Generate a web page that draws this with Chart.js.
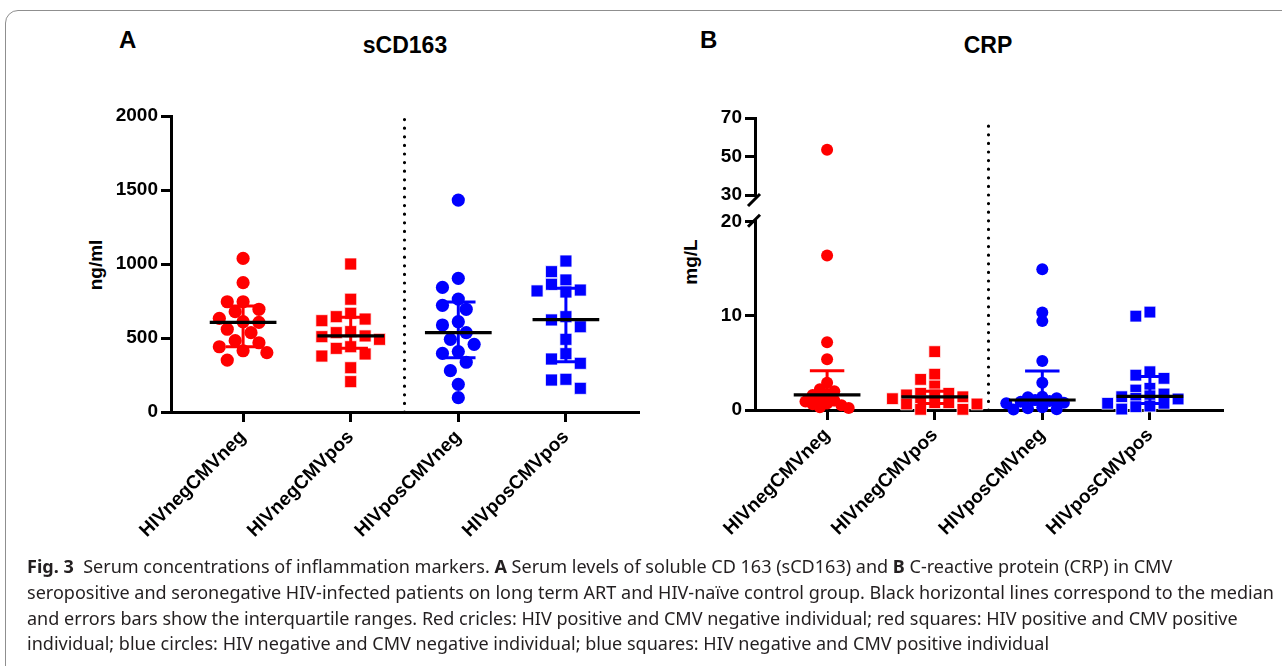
<!DOCTYPE html>
<html><head><meta charset="utf-8">
<script src="https://cdn.jsdelivr.net/npm/chart.js@4.4.1/dist/chart.umd.min.js"></script>
<style>
html,body{margin:0;padding:0;background:#fff}
body{width:1282px;height:666px;position:relative;overflow:hidden}
#frame{position:absolute;left:5px;top:10px;width:1400px;height:800px;border:1.5px solid #8f8f8f;border-radius:13px;box-sizing:border-box}
canvas{position:absolute}
.t{position:absolute;font-family:'Liberation Sans',Arial,sans-serif;font-weight:bold;color:#000;white-space:nowrap;line-height:1}
.c{transform:translateX(-50%)}
.r{transform:translate(-50%,-50%) rotate(-90deg)}
#cap{position:absolute;left:27px;top:554px;font-family:'Noto Sans',sans-serif;font-size:17px;line-height:25.8px;color:#231f20;white-space:nowrap}
#cap b{font-weight:bold}
</style></head><body>
<div id="frame"></div>
<div class="t" style="left:119px;top:28px;font-size:24px">A</div>
<div class="t c" style="left:405px;top:34px;font-size:23px">sCD163</div>
<div class="t" style="left:700px;top:28px;font-size:24px">B</div>
<div class="t c" style="left:988px;top:34px;font-size:23px">CRP</div>
<div class="t r" style="left:95px;top:265px;font-size:19px">ng/ml</div>
<div class="t r" style="left:690px;top:262px;font-size:19px">mg/L</div>
<canvas id="cA" width="660" height="560" style="left:0;top:0"></canvas>
<canvas id="cB" width="660" height="560" style="left:584px;top:0"></canvas>
<div id="cap">
<div><b>Fig. 3</b>&nbsp; Serum concentrations of inflammation markers. <b>A</b> Serum levels of soluble CD 163 (sCD163) and <b>B</b> C-reactive protein (CRP) in CMV</div>
<div id="l2">seropositive and seronegative HIV-infected patients on long term ART and HIV-naïve control group. Black horizontal lines correspond to the median</div>
<div>and errors bars show the interquartile ranges. Red cricles: HIV positive and CMV negative individual; red squares: HIV positive and CMV positive</div>
<div>individual; blue circles: HIV negative and CMV negative individual; blue squares: HIV negative and CMV positive individual</div>
</div>
<script>
// ---------------- data ----------------
const categories = ['HIVnegCMVneg', 'HIVnegCMVpos', 'HIVposCMVneg', 'HIVposCMVpos'];
const groupColors = ['#ff0000', '#ff0000', '#0000ff', '#0000ff'];
const groupShapes = ['circle', 'rect', 'circle', 'rect'];

// Panel A: sCD163 (ng/ml)
const sCD163Ticks = [0, 500, 1000, 1500, 2000];
const sCD163_HIVnegCMVneg = [1038, 874, 745, 745, 694, 678, 633, 610, 606, 559, 536, 482, 468, 441, 414, 401, 351];
const sCD163_HIVnegCMVpos = [1000, 762, 667, 644, 628, 617, 543, 536, 514, 509, 491, 441, 430, 392, 378, 299, 205];
const sCD163_HIVposCMVneg = [1432, 903, 842, 763, 721, 694, 610, 588, 536, 491, 457, 408, 396, 336, 279, 187, 97];
const sCD163_HIVposCMVpos = [1020, 948, 892, 863, 824, 818, 811, 644, 622, 576, 491, 394, 358, 329, 221, 216, 160];
const sCD163Median = [606, 514, 536, 624];
const sCD163Q1 = [441, 430, 367, 340];
const sCD163Q3 = [716, 640, 743, 836];

// Panel B: CRP (mg/L), broken axis
const crpLowerTicks = [0, 10, 20];
const crpUpperTicks = [30, 50, 70];
const crp_HIVnegCMVneg = [53.5, 16.4, 7.2, 5.4, 2.9, 2.2, 2.0, 1.7, 1.6, 1.2, 1.0, 0.9, 0.7, 0.6, 0.5, 0.3, 0.2];
const crp_HIVnegCMVpos = [6.2, 3.8, 3.25, 2.55, 1.77, 1.77, 1.6, 1.6, 1.4, 1.2, 0.88, 0.77, 0.77, 0.64, 0.64, 0.07, 0.07];
const crp_HIVposCMVneg = [14.95, 10.36, 9.44, 5.2, 2.9, 1.41, 1.35, 1.24, 1.06, 0.95, 0.88, 0.77, 0.71, 0.3, 0.18, 0.07, 0.05];
const crp_HIVposCMVpos = [10.4, 9.97, 4.06, 3.7, 3.36, 2.3, 2.12, 1.7, 1.5, 1.41, 1.24, 1.17, 0.71, 0.71, 0.42, 0.35, 0.1];
const crpMedian = [1.6, 1.4, 1.06, 1.45];
const crpQ1 = [0.55, 0.7, 0.6, 0.7];
const crpQ3 = [4.17, 2.0, 4.14, 3.55];

// ---------------- style ----------------
const FONT = {family: "'Liberation Sans', Arial, sans-serif", weight: 'bold', size: 19};
Chart.defaults.font.family = FONT.family;
Chart.defaults.font.weight = 'bold';
Chart.defaults.font.size = 19;
Chart.defaults.color = '#000';
Chart.defaults.animation = false;
const Y_AXIS_W = 71, PAD_L = 100, PAD_R = 22;
const CAP_HALF = 0.16, MED_HALF = 0.31;

function swarmOffsets(pys, d, shape, stepF, thrF) {
  const order = pys.map((p, i) => i).sort((a, b) => pys[a] - pys[b]);
  const placed = [];
  const off = new Array(pys.length).fill(0);
  const step = d * stepF, thr = d * thrF;
  for (const i of order) {
    for (let k = 0; k < 80; k++) {
      const m = Math.ceil(k / 2) * (k % 2 ? -1 : 1);
      const dx = m * step;
      const ok = placed.every(p => shape === 'circle'
        ? Math.hypot(p.x - dx, p.y - pys[i]) >= thr
        : (Math.abs(p.x - dx) >= thr || Math.abs(p.y - pys[i]) >= thr));
      if (ok) { off[i] = dx; placed.push({x: dx, y: pys[i]}); break; }
    }
  }
  return off;
}

function pointDatasets(groups, axisFor, circleR, rectR) {
  const ds = [];
  groups.forEach((vals, g) => {
    const byAxis = {};
    vals.forEach(v => { const a = axisFor(v); (byAxis[a] = byAxis[a] || []).push(v); });
    Object.keys(byAxis).forEach(a => {
      const rect = groupShapes[g] === 'rect';
      const r = rect ? rectR : circleR;
      ds.push({
        type: 'scatter', label: categories[g], yAxisID: a, group: g, values: byAxis[a],
        data: byAxis[a].map(v => ({x: g, y: v})),
        pointStyle: groupShapes[g], pointRadius: r, pointHoverRadius: r,
        markD: rect ? r * Math.SQRT2 : r * 2,
        pointBackgroundColor: groupColors[g],
        pointBorderColor: rect ? 'rgba(255,255,255,0.75)' : groupColors[g],
        pointBorderWidth: rect ? 1 : 0,
        showLine: false, clip: false, order: 3
      });
    });
  });
  return ds;
}

function summaryDatasets(median, q1, q3, yAxisID) {
  const ds = [];
  const med = [];
  median.forEach((m, g) => med.push({x: g - MED_HALF, y: m}, {x: g + MED_HALF, y: m}, {x: g, y: null}));
  ds.push({type: 'line', data: med, borderColor: '#000', borderWidth: 3.2, pointRadius: 0, spanGaps: false, order: 0, yAxisID, clip: false});
  ['#ff0000', '#0000ff'].forEach(col => {
    const d = [];
    median.forEach((m, g) => {
      if (groupColors[g] !== col) return;
      d.push({x: g, y: q1[g]}, {x: g, y: q3[g]}, {x: g, y: null},
             {x: g - CAP_HALF, y: q1[g]}, {x: g + CAP_HALF, y: q1[g]}, {x: g, y: null},
             {x: g - CAP_HALF, y: q3[g]}, {x: g + CAP_HALF, y: q3[g]}, {x: g, y: null});
    });
    ds.push({type: 'line', data: d, borderColor: col, borderWidth: 3, pointRadius: 0, spanGaps: false, order: 1, yAxisID, clip: false});
  });
  return ds;
}

function yAxisOpts(ticksArr, min, max, extra) {
  return Object.assign({
    type: 'linear', position: 'left', min, max,
    afterBuildTicks: s => { s.ticks = ticksArr.map(v => ({value: v})); },
    afterFit: s => { s.width = Y_AXIS_W; },
    ticks: {callback: v => String(v), padding: 3, color: '#000', font: FONT},
    grid: {drawOnChartArea: false, drawTicks: true, tickLength: 10, lineWidth: 3, color: '#000'},
    border: {display: true, width: 3, color: '#000'}
  }, extra || {});
}

function xAxisOpts(h) {
  return {
    type: 'linear', min: -0.67, max: 3.67,
    afterBuildTicks: s => { s.ticks = categories.map((c, i) => ({value: i})); },
    afterFit: s => { s.height = h; },
    ticks: {callback: v => categories[v], minRotation: 45, maxRotation: 45, autoSkip: false, padding: 4, color: '#000', font: FONT},
    grid: {drawOnChartArea: false, drawTicks: true, tickLength: 10, lineWidth: 3, color: '#000'},
    border: {display: true, width: 3, color: '#000'}
  };
}

const decor = {
  id: 'decor',
  beforeDatasetsDraw(chart, args, opts) {
    const {ctx, chartArea} = chart;
    const xs = chart.scales.x;
    ctx.save();
    const px = xs.getPixelForValue(opts.sepAt);
    ctx.setLineDash([0, 8.6]);
    ctx.lineCap = 'round';
    ctx.lineWidth = 3.2;
    ctx.strokeStyle = '#000';
    ctx.beginPath(); ctx.moveTo(px, chartArea.bottom); ctx.lineTo(px, chartArea.top); ctx.stroke();
    ctx.setLineDash([]);
    if (opts.breakMarks) {
      const ax = chart.scales.y.right;
      const pLow = chart.scales.y.getPixelForValue(chart.scales.y.max);
      const pHigh = chart.scales.y2.getPixelForValue(chart.scales.y2.min);
      ctx.lineCap = 'butt';
      ctx.lineWidth = 3;
      ctx.beginPath();
      ctx.moveTo(ax - 7, pLow + 5); ctx.lineTo(ax + 5, pLow - 7);
      ctx.moveTo(ax - 7, pHigh + 11); ctx.lineTo(ax + 5, pHigh - 1);
      ctx.stroke();
    }
    ctx.restore();
  }
};

function applySwarm(chart, stepF, thrF) {
  const xs = chart.scales.x;
  const ppu = xs.getPixelForValue(1) - xs.getPixelForValue(0);
  chart.data.datasets.forEach(ds => {
    if (!ds.values) return;
    const ys = chart.scales[ds.yAxisID];
    const pys = ds.values.map(v => ys.getPixelForValue(v));
    const off = swarmOffsets(pys, ds.markD, ds.pointStyle, stepF, thrF);
    ds.data = ds.values.map((v, j) => ({x: ds.group + off[j] / ppu, y: v}));
  });
  chart.update('none');
}

const commonPlugins = {legend: {display: false}, tooltip: {enabled: false}, title: {display: false}};

// Panel A
const chartA = new Chart(document.getElementById('cA'), {
  type: 'scatter',
  data: {datasets: [
    ...summaryDatasets(sCD163Median, sCD163Q1, sCD163Q3, 'y'),
    ...pointDatasets([sCD163_HIVnegCMVneg, sCD163_HIVnegCMVpos, sCD163_HIVposCMVneg, sCD163_HIVposCMVpos], () => 'y', 6.6, 8.5)
  ]},
  options: {
    responsive: false, animation: false, events: [],
    layout: {padding: {left: PAD_L, right: PAD_R, top: 116, bottom: 0}},
    scales: {x: xAxisOpts(148), y: yAxisOpts(sCD163Ticks, 0, 2000)},
    plugins: Object.assign({decor: {sepAt: 1.5, breakMarks: false}}, commonPlugins)
  },
  plugins: [decor]
});
applySwarm(chartA, 0.6, 0.95);

// Panel B
const crpBreakLow = 20;
const chartB = new Chart(document.getElementById('cB'), {
  type: 'scatter',
  data: {datasets: [
    ...summaryDatasets(crpMedian, crpQ1, crpQ3, 'y'),
    ...pointDatasets([crp_HIVnegCMVneg, crp_HIVnegCMVpos, crp_HIVposCMVneg, crp_HIVposCMVpos], v => v > crpBreakLow ? 'y2' : 'y', 6.0, 8.3)
  ]},
  options: {
    responsive: false, animation: false, events: [],
    layout: {padding: {left: PAD_L, right: PAD_R, top: 118, bottom: 0}},
    scales: {
      x: xAxisOpts(150),
      y: yAxisOpts(crpLowerTicks, 0, 20, {stack: 'crp', stackWeight: 188.3}),
      yGap: {type: 'linear', position: 'left', stack: 'crp', stackWeight: 26.7, min: 20, max: 30,
             ticks: {display: false}, grid: {display: false}, border: {display: false},
             afterFit: s => { s.width = Y_AXIS_W; }},
      y2: yAxisOpts(crpUpperTicks, 30, 70, {stack: 'crp', stackWeight: 77})
    },
    plugins: Object.assign({decor: {sepAt: 1.5, breakMarks: true}}, commonPlugins)
  },
  plugins: [decor]
});
applySwarm(chartB, 0.6, 0.64);

// fit caption width
function fitCaption() {
  const cap = document.getElementById('cap');
  const l2 = document.getElementById('l2');
  const r = document.createRange(); r.selectNodeContents(l2);
  const w = r.getBoundingClientRect().width;
  const fs = parseFloat(getComputedStyle(cap).fontSize);
  cap.style.fontSize = (fs * 1248 / w) + 'px';
}
fitCaption();
if (document.fonts && document.fonts.ready) document.fonts.ready.then(fitCaption);
</script>
</body></html>
